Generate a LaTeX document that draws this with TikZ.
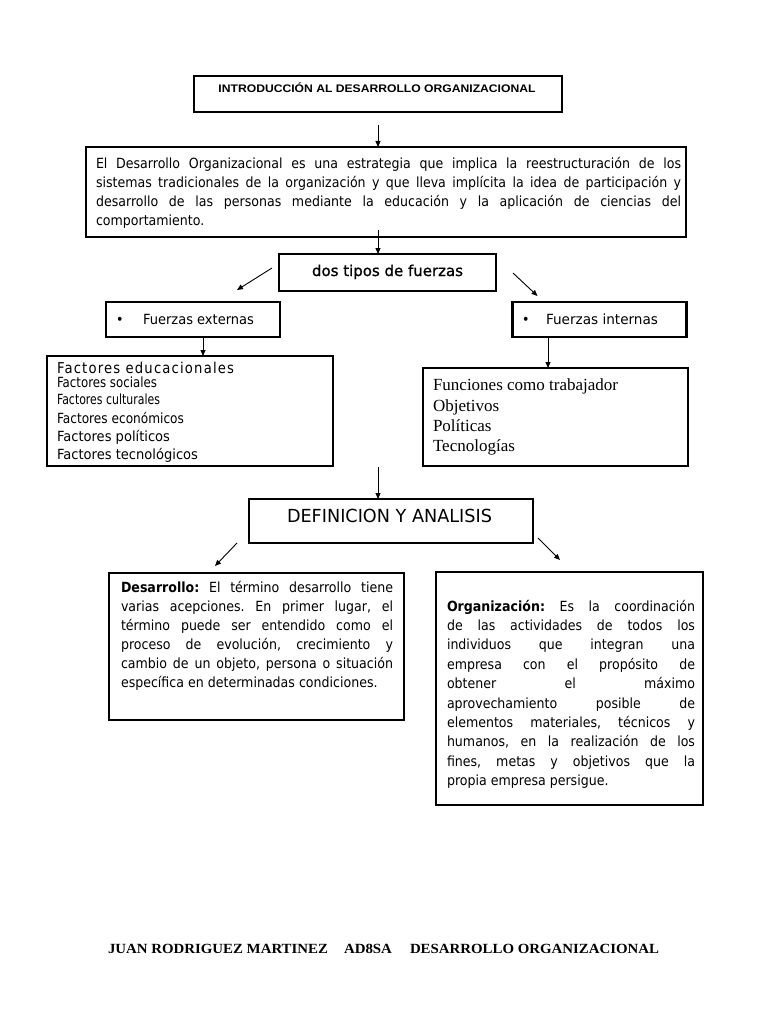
\documentclass[tikz,border=0pt]{standalone}
\usepackage{fontspec}
\usepackage{graphicx}
\usetikzlibrary{arrows.meta,calc}
\newfontfamily\tah[FakeStretch=0.9]{DejaVu Sans}
\newfontfamily\tahsb[FakeStretch=0.88,FakeBold=1]{DejaVu Sans}
\newfontfamily\ari{Liberation Sans}
\newfontfamily\tim{Liberation Serif}
\newsavebox\jlbox
\newcommand\fitto[2]{\resizebox{#1}{\height}{#2}}
\newcommand\jl[2]{\sbox\jlbox{#2}\ifdim\wd\jlbox>#1\relax\resizebox{#1}{\height}{\usebox\jlbox}\else\makebox[#1][s]{#2}\fi}
\frenchspacing
\begin{document}
\begin{tikzpicture}[x=1pt,y=-1pt,
  box/.style={draw=black,line width=#1,inner sep=0pt,outer sep=0pt},
  box/.default=2.7pt,
  lbl/.style={inner sep=0pt,outer sep=0pt},
  arr/.style={draw=black,line width=0.9pt,-{Triangle[length=6pt,width=5pt]}}]
\fill[white] (0,0) rectangle (768,1024);
\path[use as bounding box] (0,0) rectangle (768,1024);

% title
\node[box=2.2pt,minimum width=368pt,minimum height=36pt] (tit) at (378,94) {};
\node[lbl,anchor=base,font=\ari\bfseries\fontsize{11}{13}\selectfont] (titt) at (377,93)
  {\fitto{317pt}{INTRODUCCIÓN AL DESARROLLO ORGANIZACIONAL}};

% definition
\node[box=1.6pt,minimum width=600pt,minimum height=90pt] (def) at (386,192) {};
\node[lbl,anchor=north west,align=left,font=\tah\fontsize{14}{19.2}\selectfont] (deft) at (96,154.6)
  {\strut\jl{585pt}{El Desarrollo Organizacional es una estrategia que implica la reestructuración de los}\\
   \jl{585pt}{sistemas tradicionales de la organización y que lleva implícita la idea de participación y}\\
   \jl{585pt}{desarrollo de las personas mediante la educación y la aplicación de ciencias del}\\
   comportamiento.};

% dos tipos de fuerzas
\node[box=1.5pt,minimum width=217pt,minimum height=37pt] (dos) at (387.5,272.5) {};
\node[lbl,anchor=base,font=\tahsb\fontsize{15}{18}\selectfont] (dost) at (387.5,276)
  {\fitto{151pt}{dos tipos de fuerzas}};

% fuerzas externas / internas
\node[box,minimum width=174pt,minimum height=35pt] (ext) at (193,319.5) {};
\node[lbl,anchor=base west,font=\tah\fontsize{14}{16}\selectfont] (extt) at (116,324)
  {\makebox[27pt][l]{•}\fitto{111pt}{Fuerzas externas}};
\node[box,minimum width=174pt,minimum height=35pt] (int) at (599.5,319.5) {};
\node[lbl,anchor=base west,font=\tah\fontsize{14}{16}\selectfont] (intt) at (522,324)
  {\makebox[24pt][l]{•}\fitto{112pt}{Fuerzas internas}};

% factores
\node[box,minimum width=286pt,minimum height=110pt] (fac) at (190,411) {};
\node[lbl,anchor=base west,font=\tah\fontsize{15}{16}\selectfont\addfontfeature{LetterSpace=8}] (fac1) at (57,373)
  {\fitto{177pt}{Factores educacionales}};
\node[lbl,anchor=base west,font=\tah\fontsize{14}{16}\selectfont] (fac2) at (57,387.5)
  {\fitto{100pt}{Factores sociales}};
\node[lbl,anchor=base west,font=\tah\fontsize{14}{16}\selectfont] (fac3) at (57,404)
  {\fitto{103pt}{Factores culturales}};
\node[lbl,anchor=base west,font=\tah\fontsize{14}{16}\selectfont] (fac4) at (57,423)
  {\fitto{127pt}{Factores económicos}};
\node[lbl,anchor=base west,font=\tah\fontsize{14}{16}\selectfont] (fac5) at (57,441.5)
  {\fitto{113pt}{Factores políticos}};
\node[lbl,anchor=base west,font=\tah\fontsize{14}{16}\selectfont] (fac6) at (57,459.5)
  {\fitto{141pt}{Factores tecnológicos}};

% internas list
\node[box,minimum width=265pt,minimum height=98pt] (intl) at (555.5,417) {};
\node[lbl,anchor=north west,align=left,font=\tim\fontsize{17}{20.3}\selectfont] (intlt) at (433,376.5)
  {\strut Funciones como trabajador\\ Objetivos\\ Políticas\\ Tecnologías};

% definicion y analisis
\node[box,minimum width=284pt,minimum height=44pt] (defa) at (391,521) {};
\node[lbl,anchor=base west,font=\tah\fontsize{18}{20}\selectfont] (defat) at (287,522)
  {\fitto{205pt}{DEFINICION Y ANALISIS}};

% desarrollo
\node[box,minimum width=295pt,minimum height=147pt] (des) at (256.5,646.5) {};
\node[lbl,anchor=north west,align=left,font=\tah\fontsize{14}{19}\selectfont] (dest) at (121,578.7)
  {\strut\jl{272pt}{\textbf{Desarrollo:} El término desarrollo tiene}\\
   \jl{272pt}{varias acepciones. En primer lugar, el}\\
   \jl{272pt}{término puede ser entendido como el}\\
   \jl{272pt}{proceso de evolución, crecimiento y}\\
   \jl{272pt}{cambio de un objeto, persona o situación}\\
   específica en determinadas condiciones.};

% organizacion
\node[box,minimum width=267pt,minimum height=233pt] (org) at (569.5,688.5) {};
\node[lbl,anchor=north west,align=left,font=\tah\fontsize{14}{19.4}\selectfont] (orgt) at (447,597.5)
  {\strut\jl{248pt}{\textbf{Organización:} Es la coordinación}\\
   \jl{248pt}{de las actividades de todos los}\\
   \jl{248pt}{individuos que integran una}\\
   \jl{248pt}{empresa con el propósito de}\\
   \jl{248pt}{obtener el máximo}\\
   \jl{248pt}{aprovechamiento posible de}\\
   \jl{248pt}{elementos materiales, técnicos y}\\
   \jl{248pt}{humanos, en la realización de los}\\
   \jl{248pt}{fines, metas y objetivos que la}\\
   propia empresa persigue.};

% footer
\node[lbl,anchor=base west,font=\tim\bfseries\fontsize{14}{16}\selectfont] (foot) at (108,953)
  {\fitto{220pt}{JUAN RODRIGUEZ MARTINEZ}\hspace{16pt}\fitto{48pt}{AD8SA}\hspace{18pt}\fitto{249pt}{DESARROLLO ORGANIZACIONAL}};

% connectors
\coordinate (a1) at (378,125);
\draw[arr] (a1) -- (a1 |- def.north);
\coordinate (a2) at (378,230);
\draw[arr] (a2) -- (a2 |- dos.north);
\draw[arr] ($(dos.west)+(-7,-4.5)$) -- ($(ext.north)+(44,-12)$);
\draw[arr] ($(dos.east)+(17,0.5)$) -- ($(int.north)+(-62,-6)$);
\coordinate (a3) at ($(ext.south)+(10,0)$);
\draw[arr] (a3) -- (a3 |- fac.north);
\coordinate (a4) at ($(int.south)+(-51.5,0)$);
\draw[arr] (a4) -- (a4 |- intl.north);
\coordinate (a5) at (378,467);
\draw[arr] (a5) -- (a5 |- defa.north);
\draw[arr] ($(defa.south west)+(-12,0)$) -- ($(des.north)+(-41.5,-7)$);
\draw[arr] ($(defa.south east)+(5,-5)$) -- ($(org.north)+(-9.5,-12)$);
\end{tikzpicture}
\end{document}
